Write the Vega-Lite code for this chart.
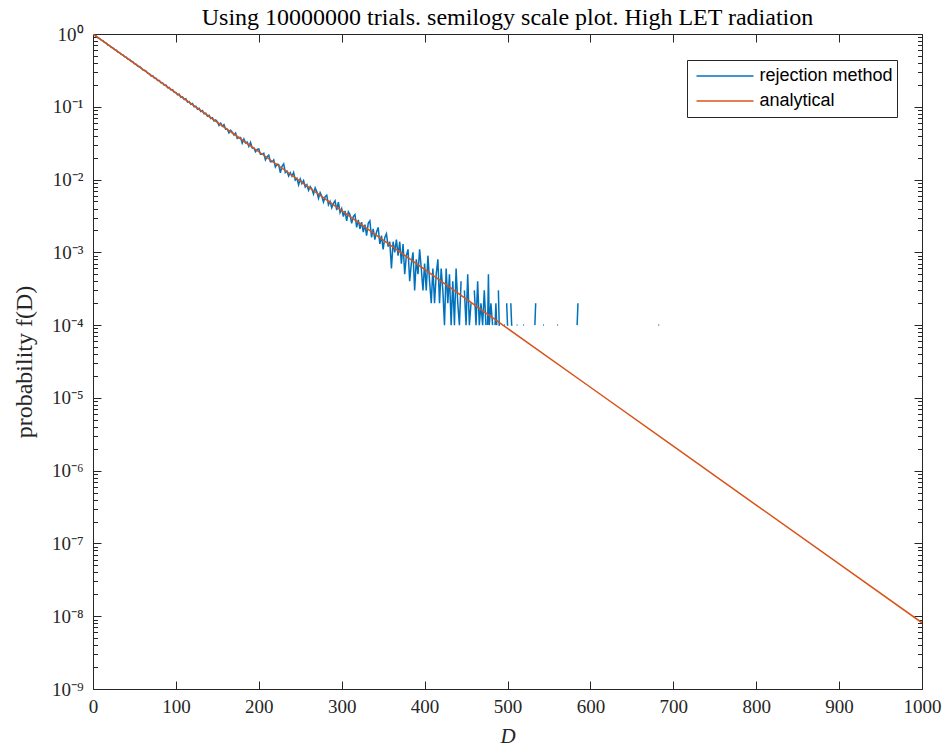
{
  "$schema": "https://vega.github.io/schema/vega-lite/v6.json",
  "width": 829,
  "height": 655,
  "autosize": {"type": "none"},
  "padding": {"left": 93, "top": 34, "right": 26, "bottom": 61},
  "background": "white",
  "title": {
    "text": "Using 10000000 trials. semilogy scale plot. High LET radiation",
    "font": "Liberation Serif",
    "fontSize": 24,
    "fontWeight": "normal",
    "color": "#000000",
    "anchor": "middle",
    "frame": "group",
    "offset": -5
  },
  "datasets": {
    "rej": [
      {"D": 0, "f": 1}, {"D": 2, "f": 0.958}, {"D": 4, "f": 0.935}, {"D": 6, "f": 0.887}, {"D": 8, "f": 0.866},
      {"D": 10, "f": 0.822}, {"D": 12, "f": 0.809}, {"D": 14, "f": 0.766}, {"D": 16, "f": 0.748}, {"D": 18, "f": 0.706},
      {"D": 20, "f": 0.693}, {"D": 22, "f": 0.657}, {"D": 24, "f": 0.646}, {"D": 26, "f": 0.611}, {"D": 28, "f": 0.601},
      {"D": 30, "f": 0.566}, {"D": 32, "f": 0.556}, {"D": 34, "f": 0.524}, {"D": 36, "f": 0.517}, {"D": 38, "f": 0.489},
      {"D": 40, "f": 0.481}, {"D": 42, "f": 0.452}, {"D": 44, "f": 0.447}, {"D": 46, "f": 0.421}, {"D": 48, "f": 0.416},
      {"D": 50, "f": 0.389}, {"D": 52, "f": 0.385}, {"D": 54, "f": 0.36}, {"D": 56, "f": 0.357}, {"D": 58, "f": 0.343},
      {"D": 60, "f": 0.321}, {"D": 62, "f": 0.318}, {"D": 64, "f": 0.309}, {"D": 66, "f": 0.288}, {"D": 68, "f": 0.285},
      {"D": 70, "f": 0.266}, {"D": 72, "f": 0.267}, {"D": 74, "f": 0.249}, {"D": 76, "f": 0.247}, {"D": 78, "f": 0.229},
      {"D": 80, "f": 0.229}, {"D": 82, "f": 0.213}, {"D": 84, "f": 0.212}, {"D": 86, "f": 0.198}, {"D": 88, "f": 0.199},
      {"D": 90, "f": 0.183}, {"D": 92, "f": 0.184}, {"D": 94, "f": 0.17}, {"D": 96, "f": 0.172}, {"D": 98, "f": 0.158},
      {"D": 100, "f": 0.157}, {"D": 102, "f": 0.146}, {"D": 104, "f": 0.149}, {"D": 106, "f": 0.135}, {"D": 108, "f": 0.137},
      {"D": 110, "f": 0.126}, {"D": 112, "f": 0.129}, {"D": 114, "f": 0.116}, {"D": 116, "f": 0.118}, {"D": 118, "f": 0.108},
      {"D": 120, "f": 0.111}, {"D": 122, "f": 0.0998}, {"D": 124, "f": 0.102}, {"D": 126, "f": 0.0925}, {"D": 128, "f": 0.0951},
      {"D": 130, "f": 0.0862}, {"D": 132, "f": 0.0889}, {"D": 134, "f": 0.0801}, {"D": 136, "f": 0.0818}, {"D": 138, "f": 0.0741},
      {"D": 140, "f": 0.0762}, {"D": 142, "f": 0.0689}, {"D": 144, "f": 0.0706}, {"D": 146, "f": 0.064}, {"D": 148, "f": 0.0658},
      {"D": 150, "f": 0.0623}, {"D": 152, "f": 0.0553}, {"D": 154, "f": 0.0595}, {"D": 156, "f": 0.0541}, {"D": 158, "f": 0.0568},
      {"D": 160, "f": 0.049}, {"D": 162, "f": 0.0492}, {"D": 164, "f": 0.0437}, {"D": 166, "f": 0.0477}, {"D": 168, "f": 0.0448},
      {"D": 170, "f": 0.041}, {"D": 172, "f": 0.0435}, {"D": 174, "f": 0.0368}, {"D": 176, "f": 0.0377}, {"D": 178, "f": 0.0378},
      {"D": 180, "f": 0.0316}, {"D": 182, "f": 0.036}, {"D": 184, "f": 0.0319}, {"D": 186, "f": 0.0327}, {"D": 188, "f": 0.0285},
      {"D": 190, "f": 0.0325}, {"D": 192, "f": 0.0272}, {"D": 194, "f": 0.0273}, {"D": 196, "f": 0.0241}, {"D": 198, "f": 0.0259},
      {"D": 200, "f": 0.0263}, {"D": 202, "f": 0.0222}, {"D": 204, "f": 0.0222}, {"D": 206, "f": 0.023}, {"D": 208, "f": 0.0186},
      {"D": 210, "f": 0.0206}, {"D": 212, "f": 0.0216}, {"D": 214, "f": 0.0175}, {"D": 216, "f": 0.0175}, {"D": 218, "f": 0.0186},
      {"D": 220, "f": 0.0149}, {"D": 222, "f": 0.0163}, {"D": 224, "f": 0.0161}, {"D": 226, "f": 0.0124}, {"D": 228, "f": 0.0152},
      {"D": 230, "f": 0.0164}, {"D": 232, "f": 0.0125}, {"D": 234, "f": 0.0131}, {"D": 236, "f": 0.0112}, {"D": 238, "f": 0.0124},
      {"D": 240, "f": 0.0111}, {"D": 242, "f": 0.0125}, {"D": 244, "f": 0.00983}, {"D": 246, "f": 0.0104}, {"D": 248, "f": 0.00848},
      {"D": 250, "f": 0.0102}, {"D": 252, "f": 0.0088}, {"D": 254, "f": 0.0097}, {"D": 256, "f": 0.0079}, {"D": 258, "f": 0.0085},
      {"D": 260, "f": 0.0071}, {"D": 262, "f": 0.008}, {"D": 264, "f": 0.0074}, {"D": 266, "f": 0.0063}, {"D": 268, "f": 0.0077},
      {"D": 270, "f": 0.0068}, {"D": 272, "f": 0.0055}, {"D": 274, "f": 0.0066}, {"D": 276, "f": 0.0059}, {"D": 278, "f": 0.0049},
      {"D": 280, "f": 0.0058}, {"D": 282, "f": 0.0061}, {"D": 284, "f": 0.0045}, {"D": 286, "f": 0.005}, {"D": 288, "f": 0.0041},
      {"D": 290, "f": 0.0047}, {"D": 292, "f": 0.0051}, {"D": 294, "f": 0.0038}, {"D": 296, "f": 0.0049}, {"D": 298, "f": 0.0035},
      {"D": 300, "f": 0.004}, {"D": 302, "f": 0.0031}, {"D": 304, "f": 0.0037}, {"D": 306, "f": 0.0027}, {"D": 308, "f": 0.0036},
      {"D": 310, "f": 0.0033}, {"D": 312, "f": 0.0025}, {"D": 314, "f": 0.0031}, {"D": 316, "f": 0.0033}, {"D": 318, "f": 0.0022},
      {"D": 320, "f": 0.0028}, {"D": 322, "f": 0.0021}, {"D": 324, "f": 0.0026}, {"D": 326, "f": 0.0019}, {"D": 328, "f": 0.0024},
      {"D": 330, "f": 0.0017}, {"D": 332, "f": 0.0025}, {"D": 334, "f": 0.0027}, {"D": 336, "f": 0.0016}, {"D": 338, "f": 0.0021},
      {"D": 340, "f": 0.0015}, {"D": 342, "f": 0.0019}, {"D": 344, "f": 0.0022}, {"D": 346, "f": 0.0013}, {"D": 348, "f": 0.0017},
      {"D": 350, "f": 0.0011}, {"D": 352, "f": 0.0016}, {"D": 354, "f": 0.0018}, {"D": 356, "f": 0.0012}, {"D": 358, "f": 0.0014},
      {"D": 360, "f": 0.0006}, {"D": 362, "f": 0.0014}, {"D": 364, "f": 0.001}, {"D": 366, "f": 0.0015}, {"D": 368, "f": 0.0009},
      {"D": 370, "f": 0.0014}, {"D": 372, "f": 0.0007}, {"D": 374, "f": 0.0013}, {"D": 376, "f": 0.0005}, {"D": 378, "f": 0.0009},
      {"D": 380, "f": 0.0011}, {"D": 382, "f": 0.0004}, {"D": 384, "f": 0.0007}, {"D": 386, "f": 0.001}, {"D": 388, "f": 0.0003},
      {"D": 390, "f": 0.0008}, {"D": 392, "f": 0.0005}, {"D": 394, "f": 0.0011}, {"D": 396, "f": 0.0006}, {"D": 398, "f": 0.0003},
      {"D": 400, "f": 0.0007}, {"D": 402, "f": 0.0003}, {"D": 404, "f": 0.0009}, {"D": 406, "f": 0.0004}, {"D": 408, "f": 0.0002},
      {"D": 410, "f": 0.0006}, {"D": 412, "f": 0.0002}, {"D": 414, "f": 0.0005}, {"D": 416, "f": 0.0008}, {"D": 418, "f": 0.0002},
      {"D": 420, "f": 0.0006}, {"D": 422, "f": 0.0003}, {"D": 424, "f": 0.0001}, {"D": 426, "f": 0.0006}, {"D": 428, "f": 0.0002},
      {"D": 430, "f": 0.0005}, {"D": 432, "f": 0.0001}, {"D": 434, "f": 0.0004}, {"D": 436, "f": 0.0001}, {"D": 438, "f": 0.0006},
      {"D": 440, "f": 0.0002}, {"D": 442, "f": 0.0001}, {"D": 444, "f": 0.0004}, {"D": 446, "f": null}, {"D": 448, "f": 0.0003},
      {"D": 450, "f": 0.0001}, {"D": 452, "f": 0.0005}, {"D": 454, "f": 0.0001}, {"D": 456, "f": 0.0002}, {"D": 458, "f": null},
      {"D": 460, "f": 0.0003}, {"D": 462, "f": 0.0001}, {"D": 464, "f": 0.0004}, {"D": 466, "f": 0.0001}, {"D": 468, "f": 0.0002},
      {"D": 470, "f": 0.0001}, {"D": 472, "f": 0.0003}, {"D": 474, "f": 0.0001}, {"D": 475, "f": null}, {"D": 476, "f": 0.0001},
      {"D": 477, "f": 0.0005}, {"D": 478, "f": 0.0001}, {"D": 480, "f": 0.0002}, {"D": 482, "f": 0.0001}, {"D": 483, "f": null},
      {"D": 485, "f": 0.0001}, {"D": 486, "f": 0.0002}, {"D": 487, "f": 0.0001}, {"D": 488, "f": null}, {"D": 489, "f": 0.0003},
      {"D": 490, "f": 0.0001}, {"D": 491, "f": 0.0001}, {"D": 492, "f": null}, {"D": 496, "f": 0.0001}, {"D": 497, "f": 0.0001},
      {"D": 498, "f": null}, {"D": 499, "f": 0.0002}, {"D": 500, "f": 0.0001}, {"D": 501, "f": 0.0001}, {"D": 502, "f": null},
      {"D": 504, "f": 0.0002}, {"D": 505, "f": 0.0001}, {"D": 506, "f": 0.0001}, {"D": 507, "f": null},
      {"D": 511, "f": 0.0001}, {"D": 512, "f": 0.0001}, {"D": 513, "f": null},
      {"D": 519, "f": 0.0001}, {"D": 520, "f": 0.0001}, {"D": 521, "f": null},
      {"D": 533, "f": 0.0001}, {"D": 534, "f": 0.0002}, {"D": 535, "f": null},
      {"D": 543, "f": 0.0001}, {"D": 544, "f": 0.0001}, {"D": 545, "f": null},
      {"D": 560, "f": 0.0001}, {"D": 561, "f": 0.0001}, {"D": 562, "f": null},
      {"D": 584, "f": 0.0001}, {"D": 585, "f": 0.0002}, {"D": 586, "f": null},
      {"D": 682, "f": 0.0001}, {"D": 683, "f": 0.0001}
    ],
    "ana": [
      {"D": 0, "f": 1},
      {"D": 100, "f": 0.155},
      {"D": 200, "f": 0.0241},
      {"D": 300, "f": 0.00375},
      {"D": 400, "f": 0.000582},
      {"D": 500, "f": 0.0000902},
      {"D": 600, "f": 0.000014},
      {"D": 700, "f": 0.00000217},
      {"D": 800, "f": 0.000000337},
      {"D": 900, "f": 0.0000000524},
      {"D": 1000, "f": 0.00000000813}
    ]
  },
  "layer": [
    {
      "data": {"name": "rej"},
      "mark": {"type": "line", "strokeWidth": 1.5, "clip": true, "invalid": "break-paths-filter-domains"},
      "encoding": {
        "x": {
          "field": "D", "type": "quantitative",
          "scale": {"domain": [0, 1000], "nice": false},
          "axis": {
            "orient": "bottom",
            "values": [0, 100, 200, 300, 400, 500, 600, 700, 800, 900, 1000],
            "format": "d",
            "labelFlush": false,
            "tickSize": -8,
            "labelPadding": 16,
            "title": "D",
            "titleFontStyle": "italic",
            "titleFontSize": 21,
            "titlePadding": 9
          }
        },
        "y": {
          "field": "f", "type": "quantitative",
          "scale": {"type": "log", "domain": [1e-9, 1], "nice": false},
          "axis": {
            "orient": "left",
            "values": [1, 1e-1, 1e-2, 1e-3, 1e-4, 1e-5, 1e-6, 1e-7, 1e-8, 1e-9],
            "labelExpr": "'10' + (datum.value < 0.5 ? '⁻' : '') + ['⁰','¹','²','³','⁴','⁵','⁶','⁷','⁸','⁹'][abs(round(log(datum.value) / LN10))]",
            "labelFlush": false,
            "tickSize": -8,
            "labelPadding": 18,
            "title": "probability f(D)",
            "titleFontSize": 24,
            "titlePadding": 15
          }
        },
        "color": {
          "datum": "rejection method",
          "type": "nominal",
          "scale": {"domain": ["rejection method", "analytical"], "range": ["#0072BD", "#D95319"]},
          "legend": {
            "orient": "none",
            "legendX": 594,
            "legendY": 26,
            "title": null,
            "symbolType": "stroke",
            "symbolSize": 3249,
            "symbolStrokeWidth": 1.5,
            "labelFont": "Liberation Sans",
            "labelFontSize": 18,
            "labelColor": "#000000",
            "strokeColor": "#262626",
            "fillColor": "white",
            "padding": 3.5,
            "clipHeight": 25,
            "rowPadding": 0,
            "symbolOffset": 5,
            "labelOffset": 5
          }
        }
      }
    },
    {
      "data": {"name": "ana"},
      "mark": {"type": "line", "strokeWidth": 1.5, "clip": true},
      "encoding": {
        "x": {
          "field": "D", "type": "quantitative",
          "scale": {"domain": [0, 1000], "nice": false},
          "axis": {
            "orient": "top",
            "values": [0, 100, 200, 300, 400, 500, 600, 700, 800, 900, 1000],
            "labels": false,
            "tickSize": -8,
            "title": null
          }
        },
        "y": {
          "field": "f", "type": "quantitative",
          "scale": {"type": "log", "domain": [1e-9, 1], "nice": false},
          "axis": {
            "orient": "right",
            "values": [1, 1e-1, 1e-2, 1e-3, 1e-4, 1e-5, 1e-6, 1e-7, 1e-8, 1e-9],
            "labels": false,
            "tickSize": -8,
            "title": null
          }
        },
        "color": {"datum": "analytical", "type": "nominal"}
      }
    },
    {
      "data": {"name": "ana"},
      "mark": {"type": "line", "opacity": 0},
      "encoding": {
        "x": {"field": "D", "type": "quantitative", "axis": null},
        "y": {
          "field": "f", "type": "quantitative",
          "axis": {
            "orient": "left",
            "values": [9e-1, 8e-1, 7e-1, 6e-1, 5e-1, 4e-1, 3e-1, 2e-1, 9e-2, 8e-2, 7e-2, 6e-2, 5e-2, 4e-2, 3e-2, 2e-2, 9e-3, 8e-3, 7e-3, 6e-3, 5e-3, 4e-3, 3e-3, 2e-3, 9e-4, 8e-4, 7e-4, 6e-4, 5e-4, 4e-4, 3e-4, 2e-4, 9e-5, 8e-5, 7e-5, 6e-5, 5e-5, 4e-5, 3e-5, 2e-5, 9e-6, 8e-6, 7e-6, 6e-6, 5e-6, 4e-6, 3e-6, 2e-6, 9e-7, 8e-7, 7e-7, 6e-7, 5e-7, 4e-7, 3e-7, 2e-7, 9e-8, 8e-8, 7e-8, 6e-8, 5e-8, 4e-8, 3e-8, 2e-8, 9e-9, 8e-9, 7e-9, 6e-9, 5e-9, 4e-9, 3e-9, 2e-9],
            "labels": false,
            "domain": false,
            "tickSize": -4.5,
            "title": null
          }
        }
      }
    },
    {
      "data": {"name": "ana"},
      "mark": {"type": "line", "opacity": 0},
      "encoding": {
        "x": {"field": "D", "type": "quantitative", "axis": null},
        "y": {
          "field": "f", "type": "quantitative",
          "axis": {
            "orient": "right",
            "values": [9e-1, 8e-1, 7e-1, 6e-1, 5e-1, 4e-1, 3e-1, 2e-1, 9e-2, 8e-2, 7e-2, 6e-2, 5e-2, 4e-2, 3e-2, 2e-2, 9e-3, 8e-3, 7e-3, 6e-3, 5e-3, 4e-3, 3e-3, 2e-3, 9e-4, 8e-4, 7e-4, 6e-4, 5e-4, 4e-4, 3e-4, 2e-4, 9e-5, 8e-5, 7e-5, 6e-5, 5e-5, 4e-5, 3e-5, 2e-5, 9e-6, 8e-6, 7e-6, 6e-6, 5e-6, 4e-6, 3e-6, 2e-6, 9e-7, 8e-7, 7e-7, 6e-7, 5e-7, 4e-7, 3e-7, 2e-7, 9e-8, 8e-8, 7e-8, 6e-8, 5e-8, 4e-8, 3e-8, 2e-8, 9e-9, 8e-9, 7e-9, 6e-9, 5e-9, 4e-9, 3e-9, 2e-9],
            "labels": false,
            "domain": false,
            "tickSize": -4.5,
            "title": null
          }
        }
      }
    }
  ],
  "resolve": {"axis": {"x": "independent", "y": "independent"}},
  "config": {
    "view": {"stroke": null},
    "axis": {
      "grid": false,
      "domainColor": "#262626",
      "domainWidth": 1,
      "tickColor": "#262626",
      "tickWidth": 1,
      "labelColor": "#262626",
      "labelFont": "Liberation Serif",
      "labelFontSize": 19,
      "titleFont": "Liberation Serif",
      "titleFontSize": 19,
      "titleFontWeight": "normal",
      "titleColor": "#262626"
    }
  }
}
